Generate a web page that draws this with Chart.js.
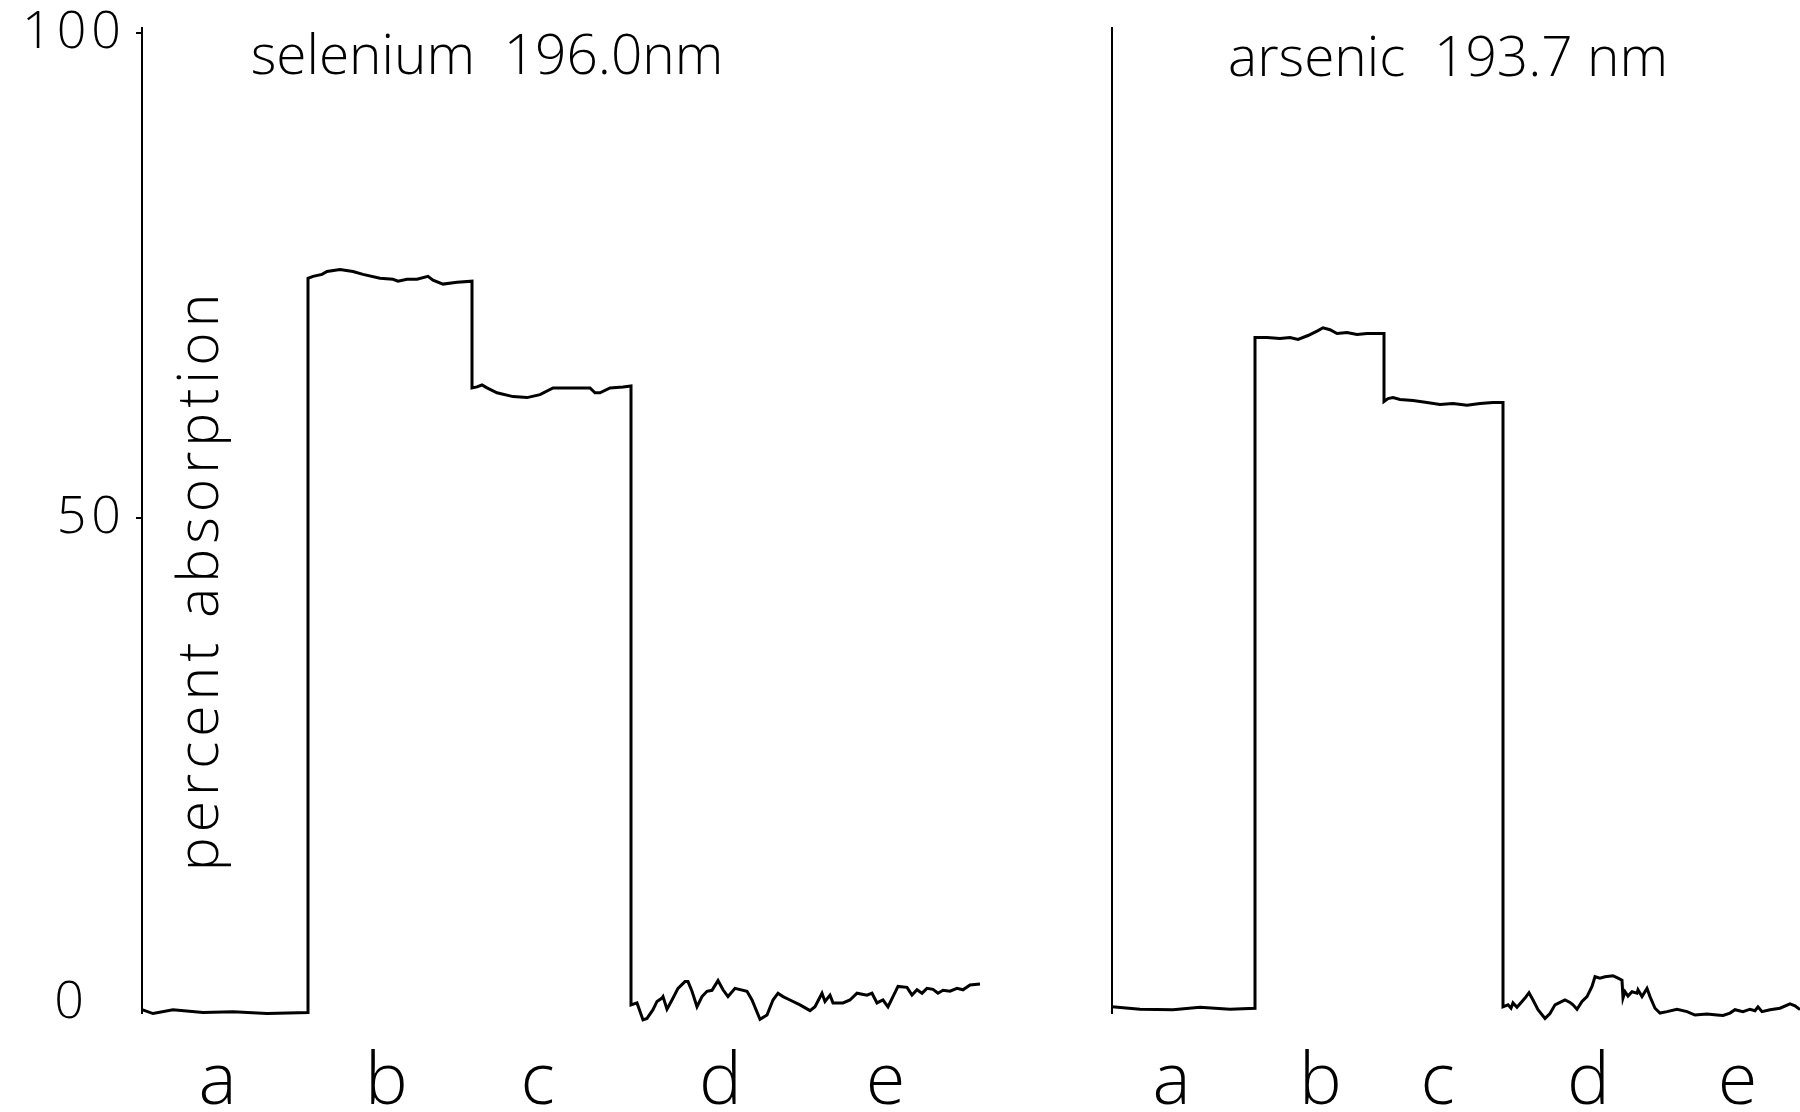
<!DOCTYPE html>
<html>
<head>
<meta charset="utf-8">
<script src="https://cdn.jsdelivr.net/npm/chart.js@4.4.1/dist/chart.umd.min.js"></script>
<style>
  html, body { margin: 0; padding: 0; background: #fff; }
  #wrap { position: relative; width: 1800px; height: 1112px; overflow: hidden; background: #fff; }
  canvas { position: absolute; top: 0; }
  #seCanvas { left: 0; }
  #asCanvas { left: 1000px; }
</style>
</head>
<body>
<div id="wrap">
  <canvas id="seCanvas" width="1000" height="1112"></canvas>
  <canvas id="asCanvas" width="800" height="1112"></canvas>
</div>
<script>
// ---- recorder traces: time (chart units) and percent absorption ----
// Selenium, 196.0 nm: a (blank), b, c, then d and e together
const seTime = [
  0, 1.1, 3.1, 6.1, 9.1, 12.5, 16.6,
  16.6, 17.1, 18.0, 18.5, 19.8, 21.1, 22.1, 23.8, 25.1, 25.6, 26.5, 27.5, 28.6, 29.1, 30.1, 31.5, 33.0,
  33.0, 33.5, 34.0, 34.5, 35.5, 37.1, 38.5, 39.8, 41.1, 42.5, 43.5, 44.8, 45.3, 45.8, 46.8, 48.1, 48.9,
  48.9, 49.5, 50.1, 50.5, 51.1, 51.5, 52.0, 52.1, 52.5, 53.0, 53.6, 54.3, 54.6, 55.0, 55.5, 56.0, 56.5,
  57.0, 57.6, 58.1, 58.6, 59.3, 60.5, 61.0, 61.8, 62.5, 63.1, 63.6, 64.1, 64.8, 65.8, 66.8, 67.3, 68.0,
  68.3, 68.8, 69.1, 70.1, 70.8, 71.5, 72.5, 73.0, 73.5, 74.1, 74.6, 75.1, 75.6, 76.5, 77.0, 77.5, 78.0,
  78.5, 79.1, 79.6, 80.1, 80.8, 81.5, 82.1, 82.8, 83.8
];
const seAbs = [
  -0.7, -1.1, -0.7, -1.0, -0.9, -1.1, -1.0,
  74.7, 74.9, 75.1, 75.4, 75.6, 75.4, 75.1, 74.7, 74.6, 74.4, 74.6, 74.6, 74.9, 74.5, 74.1, 74.3, 74.4,
  63.4, 63.5, 63.7, 63.4, 62.9, 62.5, 62.4, 62.7, 63.4, 63.4, 63.4, 63.4, 62.9, 62.9, 63.4, 63.5, 63.6,
  -0.2, 0.0, -1.75, -1.6, -0.7, 0.15, 0.5, 0.65, -0.65, 0.3, 1.5, 2.2, 2.2, 1.2, -0.4, 0.65, 1.2,
  1.3, 2.3, 1.35, 0.65, 1.5, 1.2, 0.3, -1.7, -1.25, 0.3, 1.0, 0.65, 0.3, -0.2, -0.8, -0.4, 1.0,
  0.15, 0.8, 0.0, 0.0, 0.3, 1.0, 0.8, 1.0, 0.0, 0.3, -0.4, 0.65, 1.7, 1.6, 0.8, 1.35, 1.0,
  1.5, 1.4, 1.0, 1.3, 1.2, 1.5, 1.35, 1.85, 1.95
];

// Arsenic, 193.7 nm: same sample sequence
const asTime = [
  0, 2.8, 6.1, 8.8, 11.8, 14.3,
  14.3, 15.5, 16.8, 17.8, 18.6, 19.6, 20.6, 21.1, 21.8, 22.5, 23.5, 24.5, 25.5, 26.5, 27.2,
  27.2, 27.6, 28.1, 28.8, 30.1, 31.5, 32.8, 34.1, 35.5, 36.8, 38.1, 39.1,
  39.1, 39.6, 39.9, 40.1, 40.5, 41.0, 41.3, 41.7, 42.1, 42.6, 43.3, 43.8, 44.3, 44.8, 45.3, 45.8,
  46.1, 46.5, 47.0, 47.5, 48.0, 48.3, 48.8, 49.3, 50.1, 50.6, 51.0, 51.1, 51.3, 51.6, 52.0, 52.5,
  52.6, 53.0, 53.5, 53.8, 54.3, 54.8, 55.5, 56.5, 57.5, 58.3, 59.5, 60.5, 61.1, 61.8, 62.3, 63.1,
  63.8, 64.3, 64.6, 65.0, 65.8, 66.8, 67.8, 68.3, 68.8
];
const asAbs = [
  -0.4, -0.65, -0.7, -0.45, -0.65, -0.55,
  68.6, 68.6, 68.5, 68.6, 68.4, 68.8, 69.3, 69.6, 69.4, 69.0, 69.1, 68.9, 69.0, 69.0, 69.0,
  62.0, 62.3, 62.4, 62.2, 62.1, 61.9, 61.7, 61.8, 61.6, 61.8, 61.9, 61.9,
  -0.4, -0.2, -0.55, 0.0, -0.45, 0.15, 0.5, 1.05, 0.3, -0.7, -1.6, -1.1, -0.2, 0.05, 0.3, 0.05,
  -0.2, -0.65, 0.15, 0.65, 1.7, 2.7, 2.55, 2.7, 2.8, 2.55, 2.35, 0.5, 1.15, 0.7, 1.15, 1.0,
  1.35, 0.65, 1.5, 0.65, -0.55, -1.05, -0.9, -0.65, -0.9, -1.25, -1.15, -1.25, -1.3, -1.05, -0.7, -0.9,
  -0.65, -0.8, -0.4, -0.9, -0.7, -0.55, -0.1, -0.3, -0.7
];

// sample letters and where they sit along each time axis
const sampleLetters = ['a', 'b', 'c', 'd', 'e'];
const seLetterAt = [7.8, 24.7, 39.8, 58.1, 74.6];
const asLetterAt = [6.2, 21.1, 32.8, 47.9, 62.8];

// vertical axis ticks (percent absorption)
const absTicks = [0, 50, 100];

const seTitle = 'selenium  196.0nm';
const asTitle = 'arsenic  193.7 nm';
const absCaption = 'percent absorption';

const INK = '#000';
const FACE = '"Open Sans", "DejaVu Sans", sans-serif';

// text drawn inside the plot area: panel heading and rotated axis caption
const panelText = {
  id: 'panelText',
  beforeDraw(chart) {
    chart.ctx.letterSpacing = '5px';
  },
  afterDraw(chart, args, opts) {
    const ctx = chart.ctx;
    const xs = chart.scales.x, ys = chart.scales.y;
    ctx.save();
    ctx.fillStyle = INK;
    ctx.textBaseline = 'alphabetic';
    if (opts.title) {
      ctx.font = `300 ${opts.titleSize}px ${FACE}`;
      ctx.letterSpacing = opts.titleSpacing + 'px';
      ctx.textAlign = 'center';
      ctx.fillText(opts.title, xs.getPixelForValue(opts.titleAt[0]), ys.getPixelForValue(opts.titleAt[1]));
    }
    if (opts.caption) {
      ctx.save();
      ctx.translate(xs.getPixelForValue(opts.captionAt[0]), ys.getPixelForValue(opts.captionAt[1]));
      ctx.rotate(-Math.PI / 2);
      ctx.font = `300 ${opts.captionSize}px ${FACE}`;
      ctx.letterSpacing = opts.captionSpacing + 'px';
      ctx.textAlign = 'center';
      ctx.fillText(opts.caption, 0, 0);
      ctx.restore();
    }
    ctx.restore();
  }
};

function traceData(times, values) {
  return times.map((t, i) => ({ x: t, y: values[i] }));
}

function makePanel(canvasId, cfg) {
  return new Chart(document.getElementById(canvasId), {
    type: 'line',
    data: {
      datasets: [{
        data: traceData(cfg.time, cfg.abs),
        borderColor: INK,
        borderWidth: 3,
        pointRadius: 0,
        tension: 0,
        fill: false,
        clip: false
      }]
    },
    options: {
      responsive: false,
      animation: false,
      devicePixelRatio: 1,
      events: [],
      layout: { autoPadding: false, padding: { top: 28, right: cfg.padRight, bottom: 0, left: 0 } },
      plugins: {
        legend: { display: false },
        tooltip: { enabled: false },
        title: { display: false },
        panelText: {
          title: cfg.title, titleAt: cfg.titleAt, titleSize: 55, titleSpacing: 0,
          caption: cfg.caption, captionAt: cfg.captionAt, captionSize: 57, captionSpacing: 5
        }
      },
      scales: {
        x: {
          type: 'linear',
          min: 0,
          max: cfg.tMax,
          afterBuildTicks: (s) => { s.ticks = cfg.letterAt.map(v => ({ value: v })); },
          afterFit: (s) => { s.height = 99.4; s.paddingLeft = 0; s.paddingRight = 0; },
          grid: { display: false, drawTicks: false },
          border: { display: false },
          ticks: {
            autoSkip: false,
            maxRotation: 0,
            padding: 28,
            color: INK,
            font: { family: FACE, size: 72, weight: 300 },
            callback: (v, i) => sampleLetters[i]
          }
        },
        y: {
          type: 'linear',
          min: -1,
          max: 100.5,
          afterBuildTicks: (s) => { s.ticks = absTicks.map(v => ({ value: v })); },
          afterFit: (s) => { s.width = cfg.axisLeft; s.paddingTop = 0; s.paddingBottom = 0; },
          border: { display: true, color: INK, width: 2 },
          grid: {
            display: cfg.showTicks,
            drawOnChartArea: false,
            drawTicks: true,
            tickLength: 6,
            lineWidth: 2,
            color: (c) => (c.tick && c.tick.value === 0) ? 'rgba(0,0,0,0)' : INK
          },
          ticks: {
            display: cfg.showTicks,
            padding: 10,
            color: INK,
            font: { family: FACE, size: 52, weight: 300 },
            callback: (v) => v === 0 ? '0  ' : String(v)
          }
        }
      }
    },
    plugins: [panelText]
  });
}

makePanel('seCanvas', {
  time: seTime, abs: seAbs, tMax: 85, padRight: 8, axisLeft: 142,
  letterAt: seLetterAt, showTicks: true,
  title: seTitle, titleAt: [34.5, 95.8],
  caption: absCaption, captionAt: [7.6, 43.6]
});

makePanel('asCanvas', {
  time: asTime, abs: asAbs, tMax: 68.8, padRight: 0, axisLeft: 112,
  letterAt: asLetterAt, showTicks: false,
  title: asTitle, titleAt: [33.6, 95.6],
  caption: null, captionAt: null
});
</script>
</body>
</html>
